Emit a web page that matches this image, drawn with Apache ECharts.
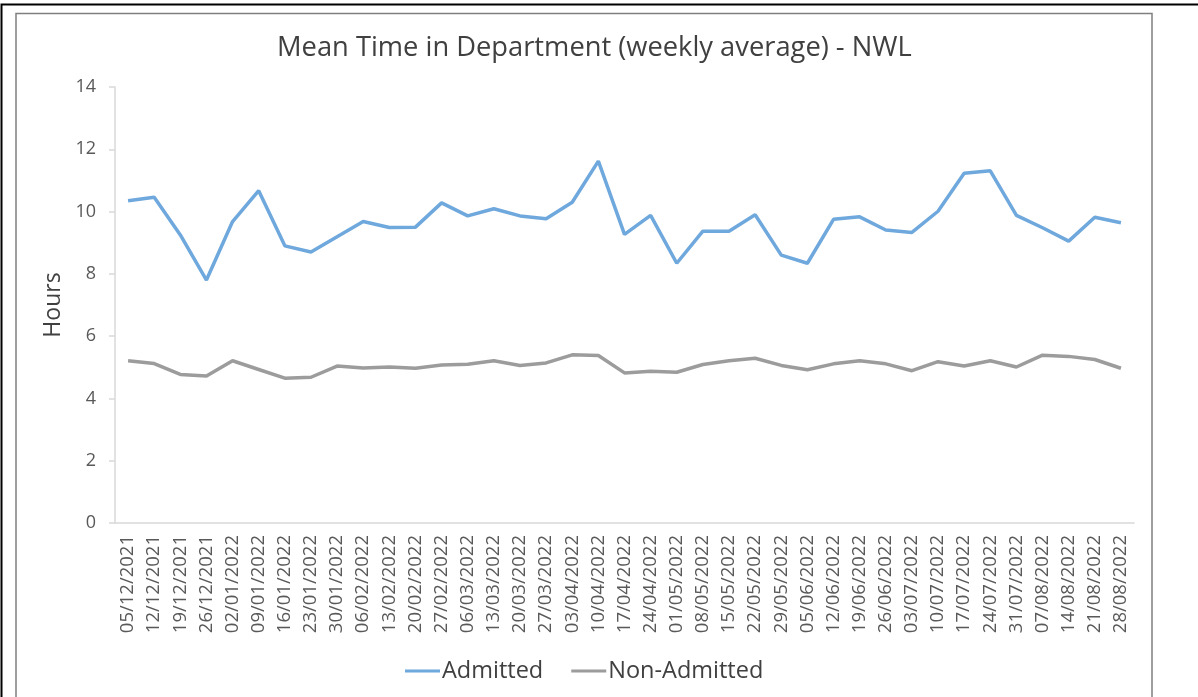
<!DOCTYPE html>
<html><head><meta charset="utf-8">
<script src="https://cdn.jsdelivr.net/npm/echarts@6/dist/echarts.min.js"></script>
<style>html,body{margin:0;padding:0;background:#fff}#c{width:1198px;height:697px}</style>
</head><body><div id="c"></div>
<script>
const categories = ["05/12/2021","12/12/2021","19/12/2021","26/12/2021","02/01/2022","09/01/2022","16/01/2022","23/01/2022","30/01/2022","06/02/2022","13/02/2022","20/02/2022","27/02/2022","06/03/2022","13/03/2022","20/03/2022","27/03/2022","03/04/2022","10/04/2022","17/04/2022","24/04/2022","01/05/2022","08/05/2022","15/05/2022","22/05/2022","29/05/2022","05/06/2022","12/06/2022","19/06/2022","26/06/2022","03/07/2022","10/07/2022","17/07/2022","24/07/2022","31/07/2022","07/08/2022","14/08/2022","21/08/2022","28/08/2022"];
const admitted = [10.35,10.46,9.25,7.80,9.68,10.67,8.90,8.70,9.19,9.68,9.49,9.50,10.28,9.86,10.09,9.86,9.77,10.30,11.62,9.27,9.88,8.34,9.37,9.37,9.90,8.60,8.34,9.75,9.83,9.41,9.33,10.01,11.23,11.31,9.88,9.48,9.05,9.82,9.64];
const nonAdmitted = [5.21,5.12,4.77,4.72,5.21,4.93,4.65,4.68,5.04,4.98,5.01,4.97,5.07,5.10,5.21,5.06,5.14,5.40,5.38,4.82,4.87,4.84,5.09,5.21,5.29,5.06,4.92,5.11,5.21,5.11,4.89,5.18,5.04,5.21,5.01,5.39,5.35,5.25,4.97];
const yTicks = [0,2,4,6,8,10,12,14];

const chart = echarts.init(document.getElementById('c'), null, {renderer:'canvas'});
const font = 'Open Sans, Liberation Sans, sans-serif';
chart.setOption({
  animation:false,
  backgroundColor:'#fff',
  textStyle:{fontFamily:font},
  title:{text:'Mean Time in Department (weekly average) - NWL',left:272,top:30,
    textStyle:{fontFamily:font,fontSize:27.3,fontWeight:'normal',color:'#404040'}},
  graphic:[
    {type:'polyline',shape:{points:[[1.5,697],[1.5,4.5],[1198,4.5]]},style:{stroke:'#000',lineWidth:2,fill:null}},
    {type:'polyline',shape:{points:[[16,697],[16,13.5],[1152,13.5],[1152,697]]},style:{stroke:'#7f7f7f',lineWidth:1.5,fill:null}}
  ],
  legend:{top:654,left:400,itemGap:28,icon:'rect',itemWidth:35,itemHeight:3,
    textStyle:{fontFamily:font,fontSize:23.5,color:'#404040',padding:[0,0,0,-3]},
    data:['Admitted','Non-Admitted']},
  grid:{left:115,right:64,top:87,bottom:174},
  xAxis:{type:'category',data:categories,boundaryGap:true,
    axisLine:{lineStyle:{color:'#d9d9d9',width:1.5}},
    axisTick:{show:false},
    axisLabel:{rotate:90,interval:0,fontSize:18.5,color:'#595959',margin:12,fontFamily:font}},
  yAxis:{type:'value',min:0,max:14,interval:2,name:'Hours',nameLocation:'middle',nameGap:48,
    nameTextStyle:{fontSize:23,color:'#404040',fontFamily:font},
    axisLine:{show:true,lineStyle:{color:'#d9d9d9',width:1.5}},
    axisTick:{show:true,length:6,lineStyle:{color:'#d9d9d9',width:1.5}},
    splitLine:{show:false},
    axisLabel:{fontSize:18,color:'#595959',margin:19,fontFamily:font,
      formatter:v=>yTicks.includes(v)?String(v):''}},
  series:[
    {name:'Admitted',type:'line',data:admitted,symbol:'none',lineStyle:{color:'#6fa8dc',width:3.5},itemStyle:{color:'#6fa8dc'}},
    {name:'Non-Admitted',type:'line',data:nonAdmitted,symbol:'none',lineStyle:{color:'#9c9c9c',width:3.5},itemStyle:{color:'#9c9c9c'}}
  ]
});
</script></body></html>
